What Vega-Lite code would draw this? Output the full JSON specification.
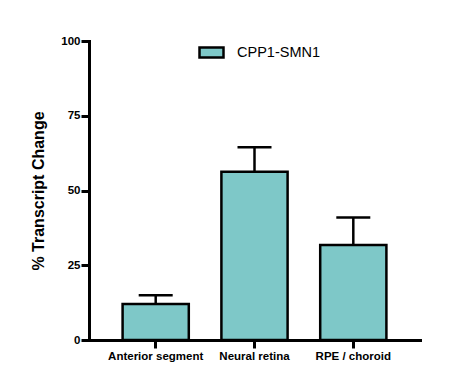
{
  "$schema": "https://vega.github.io/schema/vega-lite/v6.json",
  "width": 331,
  "height": 299,
  "autosize": {"type": "none"},
  "padding": {"left": 89, "top": 41, "right": 39, "bottom": 31},
  "background": "white",
  "config": {
    "view": {"stroke": null},
    "font": "Liberation Sans"
  },
  "data": {
    "values": [
      {"tissue": "Anterior segment", "series": "CPP1-SMN1", "value": 12, "upper": 15},
      {"tissue": "Neural retina", "series": "CPP1-SMN1", "value": 56.3, "upper": 64.5},
      {"tissue": "RPE / choroid", "series": "CPP1-SMN1", "value": 31.8, "upper": 41}
    ]
  },
  "encoding": {
    "x": {
      "field": "tissue",
      "type": "nominal",
      "sort": null,
      "scale": {"paddingInner": 0.33, "paddingOuter": 0.34},
      "axis": {
        "title": null,
        "labelAngle": 0,
        "labelFont": "Liberation Sans",
        "labelFontWeight": "bold",
        "labelFontSize": 11.5,
        "labelColor": "black",
        "labelPadding": 2,
        "domainColor": "black",
        "domainWidth": 3,
        "tickColor": "black",
        "tickWidth": 3,
        "tickSize": 8,
        "domainCap": "square"
      }
    }
  },
  "layer": [
    {
      "mark": {"type": "rule", "stroke": "black", "strokeWidth": 2.5},
      "encoding": {
        "y": {"field": "value", "type": "quantitative"},
        "y2": {"field": "upper"}
      }
    },
    {
      "mark": {"type": "tick", "color": "black", "thickness": 2.5, "size": 34, "opacity": 1},
      "encoding": {
        "y": {"field": "upper", "type": "quantitative"}
      }
    },
    {
      "mark": {"type": "bar", "stroke": "black", "strokeWidth": 2.5, "opacity": 1},
      "encoding": {
        "y": {
          "field": "value",
          "type": "quantitative",
          "scale": {"domain": [0, 100], "nice": false},
          "axis": {
            "title": "% Transcript Change",
            "titleFont": "Liberation Sans",
            "titleFontSize": 16,
            "titleFontWeight": "bold",
            "titleColor": "black",
            "titlePadding": 14,
            "values": [0, 25, 50, 75, 100],
            "grid": false,
            "labelFont": "Liberation Sans",
            "labelFontWeight": "bold",
            "labelFontSize": 11.5,
            "labelColor": "black",
            "labelPadding": 1,
            "domainColor": "black",
            "domainWidth": 3,
            "tickColor": "black",
            "tickWidth": 3,
            "tickSize": 8,
            "domainCap": "square"
          }
        },
        "fill": {
          "field": "series",
          "type": "nominal",
          "scale": {"range": ["#7ec8c8"]},
          "legend": {
            "title": null,
            "orient": "none",
            "legendX": 109,
            "legendY": -2,
            "symbolType": "M-1,-0.42L1,-0.42L1,0.42L-1,0.42Z",
            "symbolSize": 576,
            "symbolStrokeColor": "black",
            "symbolStrokeWidth": 2.5,
            "labelFont": "Liberation Sans",
            "labelFontSize": 14.5,
            "labelColor": "black",
            "labelOffset": 12
          }
        }
      }
    }
  ]
}
